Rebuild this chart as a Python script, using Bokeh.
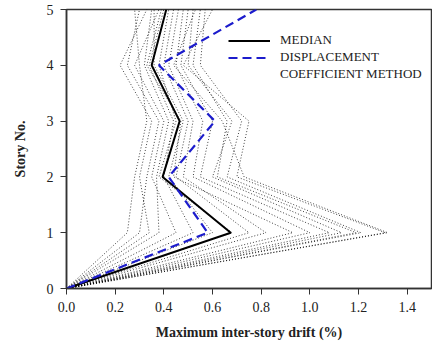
from bokeh.plotting import figure
from bokeh.models import Range1d, Legend, LegendItem, FixedTicker
from bokeh.embed import file_html
from bokeh.resources import INLINE

stories = [0, 1, 2, 3, 4, 5]

records = [
    [0, 0.25, 0.28, 0.33, 0.30, 0.28],
    [0, 0.30, 0.33, 0.38, 0.25, 0.30],
    [0, 0.34, 0.30, 0.35, 0.22, 0.33],
    [0, 0.38, 0.37, 0.42, 0.32, 0.35],
    [0, 0.45, 0.35, 0.40, 0.28, 0.38],
    [0, 0.52, 0.40, 0.44, 0.34, 0.40],
    [0, 0.60, 0.42, 0.48, 0.36, 0.36],
    [0, 0.68, 0.38, 0.45, 0.38, 0.42],
    [0, 0.75, 0.45, 0.50, 0.40, 0.44],
    [0, 0.82, 0.48, 0.52, 0.42, 0.46],
    [0, 0.93, 0.44, 0.47, 0.33, 0.39],
    [0, 1.00, 0.52, 0.56, 0.45, 0.48],
    [0, 1.08, 0.55, 0.60, 0.47, 0.50],
    [0, 1.13, 0.60, 0.68, 0.50, 0.52],
    [0, 1.19, 0.62, 0.66, 0.52, 0.55],
    [0, 1.21, 0.66, 0.72, 0.55, 0.57],
    [0, 1.31, 0.70, 0.75, 0.48, 0.60],
    [0, 1.32, 0.73, 0.64, 0.44, 0.53],
]

median = [0, 0.675, 0.395, 0.465, 0.35, 0.41]
dcm = [0, 0.58, 0.42, 0.61, 0.38, 0.78]

x_ticks = [0.0, 0.2, 0.4, 0.6, 0.8, 1.0, 1.2, 1.4]
y_ticks = [0, 1, 2, 3, 4, 5]

FONT = "Liberation Serif, Times New Roman, serif"

p = figure(width=432, height=342, output_backend="svg", toolbar_location=None,
           x_range=Range1d(0, 1.5), y_range=Range1d(0, 5),
           min_border_left=66, min_border_right=1, min_border_top=9, min_border_bottom=50)

p.grid.visible = False
p.outline_line_color = "#333333"
p.outline_line_width = 1.5

for r in records:
    p.line(r, stories, line_color="black", line_dash="1 2", line_width=1, line_alpha=0.75)

r_med = p.line(median, stories, line_color="black", line_width=2)
r_dcm = p.line(dcm, stories, line_color="#1c1ccc", line_width=2.2, line_dash="9 5")
r_blank = p.line([], [], line_alpha=0)

p.xaxis.ticker = FixedTicker(ticks=x_ticks)
p.yaxis.ticker = FixedTicker(ticks=y_ticks)
p.xaxis.major_label_overrides = {t: f"{t:.1f}" for t in x_ticks}

for ax in (p.xaxis, p.yaxis):
    ax.axis_line_color = "#333333"
    ax.axis_line_width = 1.5
    ax.major_tick_in = 0
    ax.major_tick_out = 6
    ax.minor_tick_line_color = None
    ax.major_tick_line_color = "#333333"
    ax.major_label_text_font = FONT
    ax.major_label_text_font_size = "14px"
    ax.major_label_text_color = "#222222"
    ax.axis_label_text_font = FONT
    ax.axis_label_text_font_size = "14px"
    ax.axis_label_text_font_style = "bold"
    ax.axis_label_text_color = "#222222"

p.xaxis.axis_label = "Maximum inter-story drift (%)"
p.yaxis.axis_label = "Story No."
p.xaxis.major_label_standoff = 7
p.xaxis.axis_label_standoff = 10
p.yaxis.major_label_standoff = 7
p.yaxis.axis_label_standoff = 16

legend = Legend(items=[
    LegendItem(label="MEDIAN", renderers=[r_med]),
    LegendItem(label="DISPLACEMENT", renderers=[r_dcm]),
    LegendItem(label="COEFFICIENT METHOD", renderers=[r_blank]),
], location=(162, 206))
legend.border_line_color = None
legend.background_fill_alpha = 0
legend.label_text_font = FONT
legend.label_text_font_size = "13px"
legend.label_text_color = "#222222"
legend.glyph_width = 42
legend.glyph_height = 15
legend.label_height = 15
legend.spacing = 1
legend.margin = 0
legend.padding = 0
legend.label_standoff = 10
p.add_layout(legend)

open("out.html", "w").write(file_html(p, INLINE))
